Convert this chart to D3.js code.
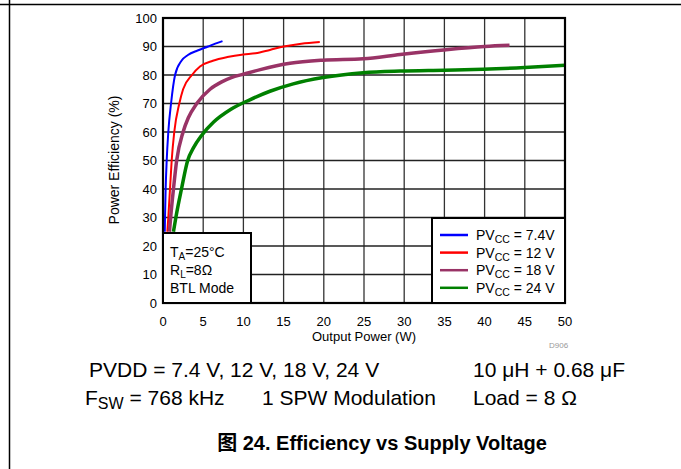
<!DOCTYPE html>
<html>
<head>
<meta charset="utf-8" />
<style>
	body { margin: 0; background: #fff; }
	svg { display: block; font-family: "Liberation Sans", Arial, sans-serif; }
</style>
</head>
<body>
<script src="https://cdn.jsdelivr.net/npm/d3@7"></script>
<script>
const xTicks = [0, 5, 10, 15, 20, 25, 30, 35, 40, 45, 50];
const yTicks = [0, 10, 20, 30, 40, 50, 60, 70, 80, 90, 100];

const pv74 = [[0.22, 25], [0.25, 30], [0.33, 40], [0.46, 50], [0.66, 60], [1.0, 70], [1.5, 80], [2.3, 85], [3.1, 87], [4.3, 88.6], [5.6, 90], [6.5, 91], [7.4, 91.9]];
const pv12 = [[0.54, 25], [0.66, 30], [0.87, 40], [1.08, 50], [1.4, 60], [2.03, 70], [2.5, 75], [3.6, 80], [4.6, 83], [6.2, 85], [8.0, 86.3], [10, 87.2], [11.5, 87.6], [13.3, 88.8], [15, 90], [17.2, 91], [19.5, 91.6]];
const pv18 = [[0.8, 25], [0.95, 30], [1.3, 40], [1.7, 50], [2.5, 60], [3.15, 65], [4.2, 70], [5.85, 75], [7.3, 77.6], [8.5, 79.1], [10, 80.3], [12.1, 81.9], [15.8, 84.1], [19.9, 85.2], [24.9, 85.7], [29.5, 87.2], [34.9, 88.8], [40, 90], [43.1, 90.4]];
const pv24 = [[1.3, 25], [1.6, 30], [2.3, 40], [3.07, 50], [3.8, 54.5], [4.8, 58.8], [6.3, 63.5], [8.4, 67.9], [10.8, 71.3], [13.3, 74.3], [16.2, 76.9], [19.9, 79.1], [24.9, 80.8], [29.5, 81.4], [35, 81.7], [39.8, 82], [45, 82.6], [50, 83.4]];

const seriesNames = ["7.4V", "12 V", "18 V", "24 V"];
const seriesColors = ["#0000ff", "#ff0000", "#993366", "#008000"];
const seriesWidths = [2, 2, 3.5, 3.5];
const seriesData = [pv74, pv12, pv18, pv24];

const W = 681, H = 469;
const m = { left: 163, top: 18, right: 565, bottom: 303 };

const svg = d3.select("body").append("svg").attr("width", W).attr("height", H);

// page frame lines
svg.append("line").attr("x1", 0).attr("x2", W).attr("y1", 4.5).attr("y2", 4.5).attr("stroke", "#000").attr("stroke-width", 1.5);
svg.append("line").attr("x1", 9.5).attr("x2", 9.5).attr("y1", 0).attr("y2", H).attr("stroke", "#000").attr("stroke-width", 1.5);

const x = d3.scaleLinear().domain([0, 50]).range([m.left, m.right]);
const y = d3.scaleLinear().domain([0, 100]).range([m.bottom, m.top]);

// grid
svg.append("g").selectAll("line").data(xTicks).join("line")
	.attr("x1", d => x(d)).attr("x2", d => x(d))
	.attr("y1", m.top).attr("y2", m.bottom)
	.attr("stroke", "#333").attr("stroke-width", 1.3);
svg.append("g").selectAll("line").data(yTicks).join("line")
	.attr("x1", m.left).attr("x2", m.right)
	.attr("y1", d => y(d)).attr("y2", d => y(d))
	.attr("stroke", "#222").attr("stroke-width", 1.3);

// tick labels
svg.append("g").selectAll("text").data(yTicks).join("text")
	.attr("x", m.left - 6).attr("y", d => y(d) + 4.5)
	.attr("text-anchor", "end").attr("font-size", 13).text(d => d);
svg.append("g").selectAll("text").data(xTicks).join("text")
	.attr("x", d => x(d)).attr("y", 326)
	.attr("text-anchor", "middle").attr("font-size", 13).text(d => d);

svg.append("text").attr("x", 364).attr("y", 341).attr("text-anchor", "middle")
	.attr("font-size", 13).text("Output Power (W)");
svg.append("text").attr("transform", "translate(119,160) rotate(-90)")
	.attr("text-anchor", "middle").attr("font-size", 14).text("Power Efficiency (%)");

svg.append("text").attr("x", 549).attr("y", 348).attr("font-size", 8)
	.attr("fill", "#999").text("D906");

// curves
const line = d3.line().x(d => x(d[0])).y(d => y(d[1])).curve(d3.curveMonotoneX);
svg.append("g").selectAll("path").data(seriesData).join("path")
	.attr("d", line).attr("fill", "none")
	.attr("stroke", (d, i) => seriesColors[i])
	.attr("stroke-width", (d, i) => seriesWidths[i])
	.attr("stroke-linejoin", "round");

// plot border
svg.append("rect").attr("x", m.left).attr("y", m.top)
	.attr("width", m.right - m.left).attr("height", m.bottom - m.top)
	.attr("fill", "none").attr("stroke", "#000").attr("stroke-width", 2.2);

// condition box
const cb = svg.append("g");
cb.append("rect").attr("x", m.left).attr("y", 233).attr("width", 251 - m.left).attr("height", m.bottom - 233)
	.attr("fill", "#fff").attr("stroke", "#000").attr("stroke-width", 2);
const t1 = cb.append("text").attr("x", 170).attr("y", 257).attr("font-size", 14);
t1.append("tspan").text("T");
t1.append("tspan").attr("font-size", 10).attr("dy", 3).text("A");
t1.append("tspan").attr("dy", -3).text("=25°C");
const t2 = cb.append("text").attr("x", 170).attr("y", 275).attr("font-size", 14);
t2.append("tspan").text("R");
t2.append("tspan").attr("font-size", 10).attr("dy", 3).text("L");
t2.append("tspan").attr("dy", -3).text("=8Ω");
cb.append("text").attr("x", 170).attr("y", 292.5).attr("font-size", 14).text("BTL Mode");

// legend
const lg = svg.append("g");
lg.append("rect").attr("x", 432).attr("y", 218).attr("width", m.right - 432).attr("height", m.bottom - 218)
	.attr("fill", "#fff").attr("stroke", "#000").attr("stroke-width", 2);
const rows = lg.selectAll("g").data(seriesNames).join("g")
	.attr("transform", (d, i) => `translate(0,${235 + i * 17.6})`);
rows.append("line").attr("x1", 440).attr("x2", 468).attr("y1", 0).attr("y2", 0)
	.attr("stroke", (d, i) => seriesColors[i]).attr("stroke-width", 2.5);
const lt = rows.append("text").attr("x", 476).attr("y", 5).attr("font-size", 14);
lt.append("tspan").text("PV");
lt.append("tspan").attr("font-size", 10.5).attr("dy", 3).text("CC");
lt.append("tspan").attr("dy", -3).text(d => " = " + d);

// notes under chart
svg.append("text").attr("x", 89).attr("y", 377).attr("font-size", 21).text("PVDD = 7.4 V, 12 V, 18 V, 24 V");
svg.append("text").attr("x", 473).attr("y", 377).attr("font-size", 21).text("10 μH + 0.68 μF");
const f = svg.append("text").attr("x", 85).attr("y", 405).attr("font-size", 21);
f.append("tspan").text("F");
f.append("tspan").attr("font-size", 16).attr("dy", 4).text("SW");
f.append("tspan").attr("dy", -4).text(" = 768 kHz");
svg.append("text").attr("x", 262).attr("y", 405).attr("font-size", 21).text("1 SPW Modulation");
svg.append("text").attr("x", 473).attr("y", 405).attr("font-size", 21).text("Load = 8 Ω");

svg.append("text").attr("x", 382).attr("y", 450).attr("text-anchor", "middle")
	.attr("font-size", 20).attr("font-weight", "bold")
	.attr("font-family", "'Liberation Sans', 'Noto Sans CJK SC', sans-serif")
	.text("图 24. Efficiency vs Supply Voltage");
</script>
</body>
</html>
